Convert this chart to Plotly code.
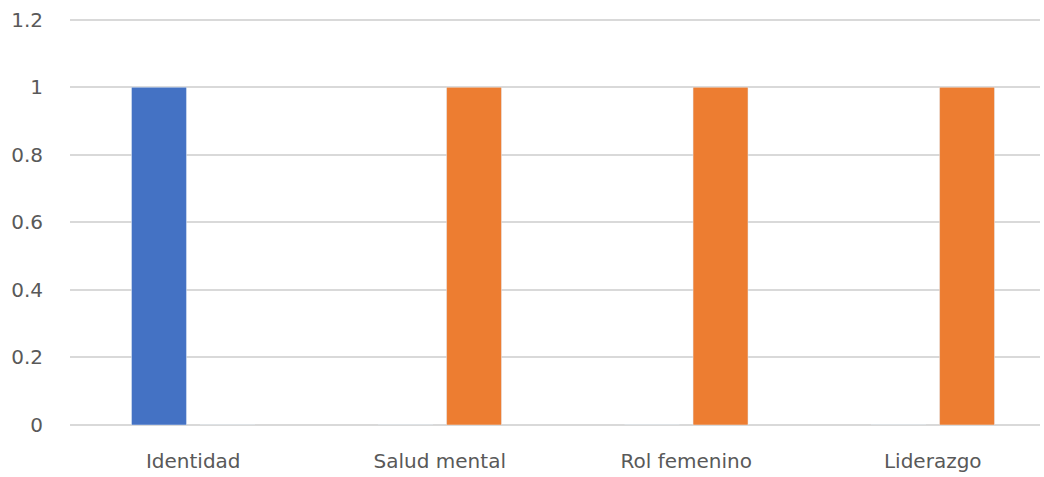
import plotly.graph_objects as go

categories = ["Identidad", "Salud mental", "Rol femenino", "Liderazgo"]
serie_1 = [1, 0, 0, 0]
serie_2 = [0, 1, 1, 1]
y_ticks = [0, 0.2, 0.4, 0.6, 0.8, 1, 1.2]
y_tick_text = ["0", "0.2", "0.4", "0.6", "0.8", "1", "1.2"]

fig = go.Figure()
fig.add_trace(go.Bar(x=categories, y=serie_1, name="Serie 1", marker_color="#4472C4"))
fig.add_trace(go.Bar(x=categories, y=serie_2, name="Serie 2", marker_color="#ED7D31"))

fig.update_layout(
    width=1044, height=477,
    margin=dict(l=70, r=4, t=18, b=52),
    paper_bgcolor="white", plot_bgcolor="white",
    barmode="group", bargap=0.444, bargroupgap=0.198,
    showlegend=False,
    font=dict(family="DejaVu Sans", size=20, color="#595959"),
)
fig.update_xaxes(
    range=[-0.5, 3.435], showgrid=False, showline=False, zeroline=False,
    ticks="", ticklabelstandoff=22, automargin=False,
    tickfont=dict(size=20, color="#595959"),
)
fig.update_yaxes(
    range=[0, 1.205], tickvals=y_ticks, ticktext=y_tick_text,
    showgrid=True, gridcolor="#D9D9D9", gridwidth=1.5,
    zeroline=True, zerolinecolor="#D9D9D9", zerolinewidth=1.5,
    showline=False, ticklabelstandoff=26, automargin=False,
    tickfont=dict(size=20, color="#595959"),
)

fig.write_html("out.html", config={"displayModeBar": False},
               post_script="document.body.style.margin='0';")
